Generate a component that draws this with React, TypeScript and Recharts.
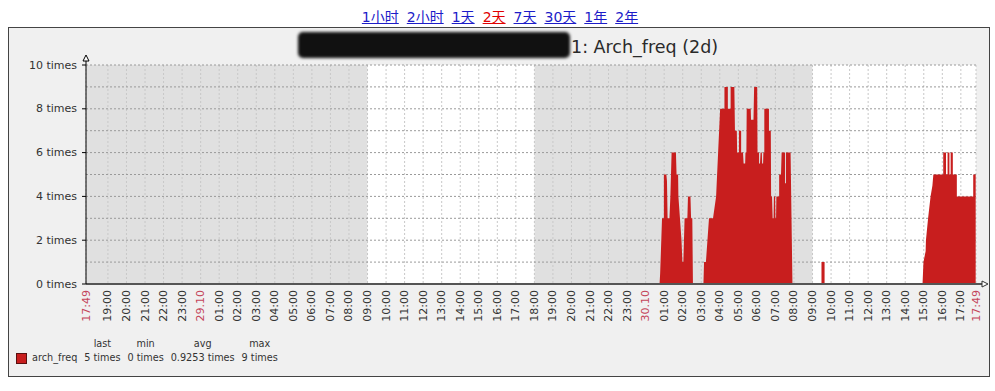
import React from 'react';
import { AreaChart, Area, XAxis, YAxis, CartesianGrid, ReferenceArea, ReferenceDot } from 'recharts';

// period links above the graph
const rangeLinks = ['1小时', '2小时', '1天', '2天', '7天', '30天', '1年', '2年'];
const activeRange = '2天';

// x values are minutes since 28.10 17:49 (2 day window)
const windowEnd = 2880;
const tickLabels = [
  '17:49', '19:00', '20:00', '21:00', '22:00', '23:00',
  '29.10', '01:00', '02:00', '03:00', '04:00', '05:00', '06:00', '07:00', '08:00', '09:00', '10:00', '11:00',
  '12:00', '13:00', '14:00', '15:00', '16:00', '17:00', '18:00', '19:00', '20:00', '21:00', '22:00', '23:00',
  '30.10', '01:00', '02:00', '03:00', '04:00', '05:00', '06:00', '07:00', '08:00', '09:00', '10:00', '11:00',
  '12:00', '13:00', '14:00', '15:00', '16:00', '17:00', '17:49',
];
const markedLabels = ['17:49', '29.10', '30.10'];
const yTicks = [0, 1, 2, 3, 4, 5, 6, 7, 8, 9, 10];

// shaded / working time periods
const offHours = [[0, 911], [1451, 2351]];
const workHours = [[911, 1451], [2351, 2880]];

// arch_freq, [minute, value]
const quietStart = [[0, 0]];
const burstNight = [
  [1856, 0], [1858, 0.5], [1864, 3], [1870, 3], [1870, 5], [1878, 5], [1880, 4.7], [1882, 3], [1888, 3],
  [1891, 4], [1895, 6], [1909, 6], [1911, 5], [1916, 5], [1917, 4], [1927, 2], [1930, 1], [1933, 1],
  [1937, 3], [1946, 3], [1948, 4], [1956, 4], [1958, 3], [1962, 3], [1964, 0],
];
const burstMorning = [
  [1998, 0], [2000, 1], [2006, 1], [2016, 3], [2029, 3], [2039, 4], [2052, 8], [2066, 8], [2066, 9],
  [2077, 9], [2077, 8], [2086, 8], [2086, 9], [2098, 9], [2100, 7], [2106, 7], [2107, 6], [2113, 6],
  [2113, 7], [2120, 7], [2120, 6], [2126, 6], [2128, 5.5], [2133, 5.5], [2134, 6], [2137, 6], [2138, 8],
  [2151, 8], [2152, 7.5], [2160, 7.5], [2162, 9], [2172, 9], [2173, 6], [2178, 6], [2178, 5.5], [2181, 5.5],
  [2183, 6], [2187, 6], [2188, 5.5], [2191, 5.5], [2192, 6], [2195, 6], [2195, 8], [2210, 8], [2210, 7],
  [2216, 7], [2217, 4], [2220, 4], [2222, 3], [2225, 3], [2226, 4], [2230, 4], [2231, 3], [2233, 3],
  [2234, 4], [2243, 4], [2243, 5], [2249, 5], [2251, 6], [2262, 6], [2262, 4.6], [2265, 4.6], [2265, 6],
  [2280, 6], [2283, 3], [2286, 0],
];
const blip = [[2380, 0], [2380, 1], [2390, 1], [2390, 0]];
const burstAfternoon = [
  [2707, 0], [2710, 1], [2717, 1.5], [2718, 2], [2725, 3], [2733, 4], [2739, 4.5], [2742, 5], [2774, 5],
  [2774, 6], [2783, 6], [2783, 5], [2788, 5], [2788, 6], [2794, 6], [2794, 5], [2798, 5], [2798, 6],
  [2805, 6], [2805, 5], [2818, 5], [2818, 4], [2871, 4], [2871, 5], [2879, 5],
];

const legendName = 'arch_freq';
const legendHeaders = ['last', 'min', 'avg', 'max'];
const legendValues = ['5 times', '0 times', '0.9253 times', '9 times'];

const RED = '#c81e1e';
const FONT = '"DejaVu Sans", "Noto Sans CJK SC", sans-serif';

const series = [...quietStart, ...burstNight, ...burstMorning, ...blip, ...burstAfternoon].map(([t, v]) => ({ t, v }));

const tickTimes = tickLabels.map((_, i) => (i === 0 ? 0 : i === tickLabels.length - 1 ? windowEnd : 71 + 60 * (i - 1)));

const XTick = ({ x, y, payload }: any) => {
  const label = tickLabels[tickTimes.indexOf(payload.value)];
  const red = markedLabels.includes(label);
  return (
    <text x={x} y={y} transform={`rotate(-90 ${x} ${y})`} textAnchor="end" dominantBaseline="central"
      fontSize={11} fontFamily={FONT} fill={red ? '#c4455a' : '#333'}>
      {label}
    </text>
  );
};

const YTick = ({ x, y, payload }: any) => {
  if (payload.value % 2) return <g />;
  return (
    <g>
      <line x1={x + 5} x2={x + 9} y1={y} y2={y} stroke="#000" />
      <text x={x} y={y} textAnchor="end" dominantBaseline="central" fontSize={11} fontFamily={FONT} fill="#333">
        {payload.value} times
      </text>
    </g>
  );
};

const xArrow = ({ cx, cy }: any) => (
  <g>
    <line x1={cx} x2={cx + 6} y1={cy} y2={cy} stroke="#555" strokeWidth={2} />
    <polygon points={`${cx + 6},${cy - 3} ${cx + 12},${cy} ${cx + 6},${cy + 3}`} fill="#fff" stroke="#333" />
  </g>
);

const yArrow = ({ cx, cy }: any) => (
  <g>
    <line x1={cx} x2={cx} y1={cy} y2={cy - 4} stroke="#000" />
    <polygon points={`${cx - 3},${cy - 4} ${cx},${cy - 10} ${cx + 3},${cy - 4}`} fill="#fff" stroke="#000" />
  </g>
);

export default function App() {
  return (
    <div style={{ position: 'absolute', left: 0, top: 0, width: 995, height: 391, background: '#fff', overflow: 'hidden', fontFamily: FONT }}>
      <div style={{ position: 'absolute', left: 0, top: 10, width: 1000, textAlign: 'center', fontSize: 14, lineHeight: '14px' }}>
        {rangeLinks.map((r) => (
          <a key={r} href="#" style={{ color: r === activeRange ? '#e00000' : '#1c1cc8', textDecoration: 'underline', margin: '0 4px' }}>{r}</a>
        ))}
      </div>

      <div style={{ position: 'absolute', left: 8, top: 27, width: 980, height: 348, border: '1px solid #444', background: '#f0f0f0' }} />

      {/* hostname hidden in the screenshot */}
      <div style={{ position: 'absolute', left: 298, top: 32, width: 272, height: 26, background: '#111', filter: 'blur(1.5px)', borderRadius: 5 }} />
      <div style={{ position: 'absolute', left: 571, top: 39, fontSize: 17.5, lineHeight: '17px', color: '#2a2a2a', whiteSpace: 'nowrap' }}>
        1: Arch_freq (2d)
      </div>

      <div style={{ position: 'absolute', left: 0, top: 0 }}>
        <AreaChart width={995} height={391} data={series} margin={{ top: 65, right: 19, left: 6, bottom: 47 }}>
          {offHours.map(([a, b]) => (
            <ReferenceArea key={'o' + a} x1={a} x2={b} y1={0} y2={10} fill="#e0e0e0" fillOpacity={1} stroke="none" zIndex={-200} />
          ))}
          {workHours.map(([a, b]) => (
            <ReferenceArea key={'w' + a} x1={a} x2={b} y1={0} y2={10} fill="#ffffff" fillOpacity={1} stroke="none" zIndex={-200} />
          ))}
          <CartesianGrid horizontal={false} stroke="#c8c8c8" strokeDasharray="2 2" />
          <CartesianGrid vertical={false} stroke="#9a9a9a" strokeDasharray="2 2" />
          <XAxis dataKey="t" type="number" domain={[0, windowEnd]} ticks={tickTimes} interval={0} height={60}
            tickLine={false} tickSize={0} tickMargin={6} axisLine={{ stroke: '#555', strokeWidth: 2 }} tick={<XTick />} />
          <YAxis type="number" domain={[0, 10]} ticks={yTicks} interval={0} width={80}
            tickLine={false} tickSize={0} tickMargin={9} axisLine={{ stroke: '#000' }} tick={<YTick />} />
          <Area dataKey="v" type="linear" stroke="none" fill={RED} fillOpacity={1} isAnimationActive={false} dot={false} activeDot={false} />
          <ReferenceDot x={windowEnd} y={0} shape={xArrow} />
          <ReferenceDot x={0} y={10} shape={yArrow} />
        </AreaChart>
      </div>

      <div style={{ position: 'absolute', left: 16, top: 337, display: 'flex', alignItems: 'flex-end', fontSize: 9.7, lineHeight: '14px', color: '#333' }}>
        <div style={{ display: 'flex', alignItems: 'center', height: 14 }}>
          <span style={{ display: 'inline-block', width: 11, height: 11, boxSizing: 'border-box', background: RED, border: '1px solid #5a1010', marginRight: 5 }} />
          <span>{legendName}</span>
        </div>
        {legendHeaders.map((h, i) => (
          <div key={h} style={{ display: 'flex', flexDirection: 'column', alignItems: 'center', marginLeft: 7 }}>
            <span>{h}</span>
            <span>{legendValues[i]}</span>
          </div>
        ))}
      </div>
    </div>
  );
}
